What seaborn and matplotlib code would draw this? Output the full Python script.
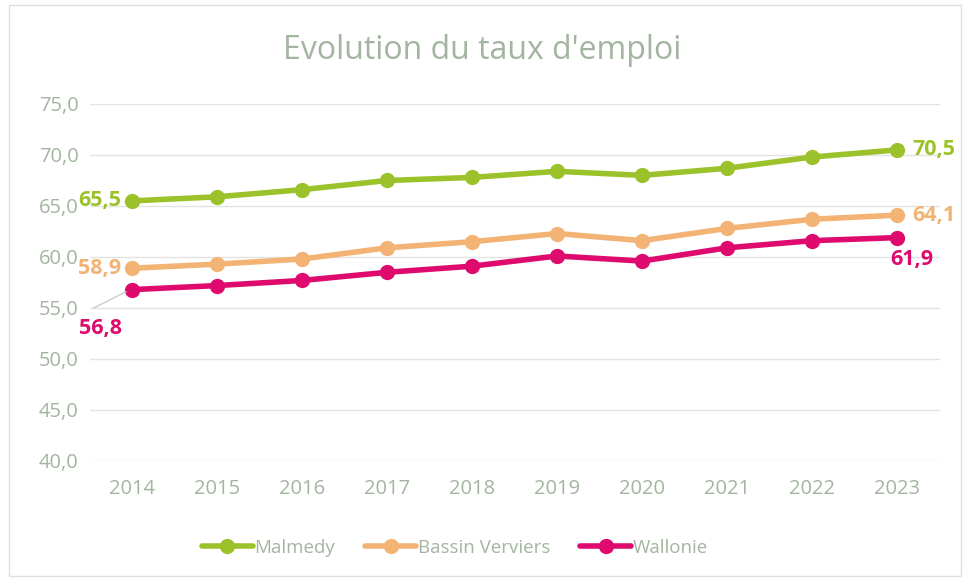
import matplotlib
matplotlib.use("Agg")
import matplotlib.pyplot as plt
import matplotlib.ticker as mticker
from matplotlib.patches import Rectangle
import seaborn as sns
import pandas as pd

years = [2014, 2015, 2016, 2017, 2018, 2019, 2020, 2021, 2022, 2023]
malmedy = [65.5, 65.9, 66.6, 67.5, 67.8, 68.4, 68.0, 68.7, 69.8, 70.5]
bassin_verviers = [58.9, 59.3, 59.8, 60.9, 61.5, 62.3, 61.6, 62.8, 63.7, 64.1]
wallonie = [56.8, 57.2, 57.7, 58.5, 59.1, 60.1, 59.6, 60.9, 61.6, 61.9]
series_names = ["Malmedy", "Bassin Verviers", "Wallonie"]
colors = ["#9BC22B", "#F2B375", "#DE0A6E"]
txt_color = "#A3B5A0"

df = pd.DataFrame({
    "year": years * 3,
    "value": malmedy + bassin_verviers + wallonie,
    "serie": [s for s in series_names for _ in years],
})

sns.set_style("white")
plt.rcParams["font.family"] = ["Open Sans", "DejaVu Sans"]

fig = plt.figure(figsize=(9.64, 5.79), dpi=100)
ax = fig.add_axes([0.0929, 0.2038, 0.8817, 0.6166])

sns.lineplot(data=df, x="year", y="value", hue="serie", palette=colors,
             marker="o", markersize=11, markeredgewidth=0, linewidth=4,
             ax=ax, legend=True)

ax.set_xlim(2013.5, 2023.5)
ax.set_ylim(40, 75)
ax.set_yticks(range(40, 76, 5))
ax.set_xticks(years)
ax.yaxis.set_major_formatter(mticker.FuncFormatter(lambda v, p: f"{v:.1f}".replace(".", ",")))
ax.grid(axis="y", color="#E3E3E3", linewidth=1)
ax.set_axisbelow(True)
for s in ax.spines.values():
    s.set_visible(False)
ax.tick_params(axis="both", length=0, labelsize=14.5, labelcolor=txt_color, pad=13)
ax.tick_params(axis="y", pad=8)
ax.set_xlabel("")
ax.set_ylabel("")

# data labels
lbl = dict(fontsize=15.5, fontweight="bold")
fmt = lambda v: f"{v:.1f}".replace(".", ",")
ax.text(2014 - 0.13, malmedy[0], fmt(malmedy[0]), color=colors[0], ha="right", va="center", **lbl)
ax.text(2014 - 0.13, bassin_verviers[0], fmt(bassin_verviers[0]), color=colors[1], ha="right", va="center", **lbl)
ax.text(2013.37, 53.0, fmt(wallonie[0]), color=colors[2], ha="left", va="center", **lbl)
ax.plot([2013.55, 2013.93], [55.0, 56.6], color="#C8D0C6", linewidth=1)
ax.text(2023 + 0.18, malmedy[-1], fmt(malmedy[-1]), color=colors[0], ha="left", va="center", **lbl)
ax.text(2023 + 0.18, bassin_verviers[-1], fmt(bassin_verviers[-1]), color=colors[1], ha="left", va="center", **lbl)
ax.text(2023 - 0.08, 59.8, fmt(wallonie[-1]), color=colors[2], ha="left", va="center", **lbl)

fig.suptitle("Evolution du taux d'emploi", y=0.912, va="center", fontsize=23, color=txt_color)

leg = ax.legend(loc="upper center", bbox_to_anchor=(0.43, -0.17), ncol=3, frameon=False,
                fontsize=13.5, handlelength=2.7, columnspacing=1.6, handletextpad=0.1)
for t in leg.get_texts():
    t.set_color(txt_color)

fig.patches.append(Rectangle((0.009, 0.006), 0.988, 0.985, transform=fig.transFigure,
                             fill=False, edgecolor="#E0E0E0", linewidth=1))

fig.savefig("out.png", dpi=100)
